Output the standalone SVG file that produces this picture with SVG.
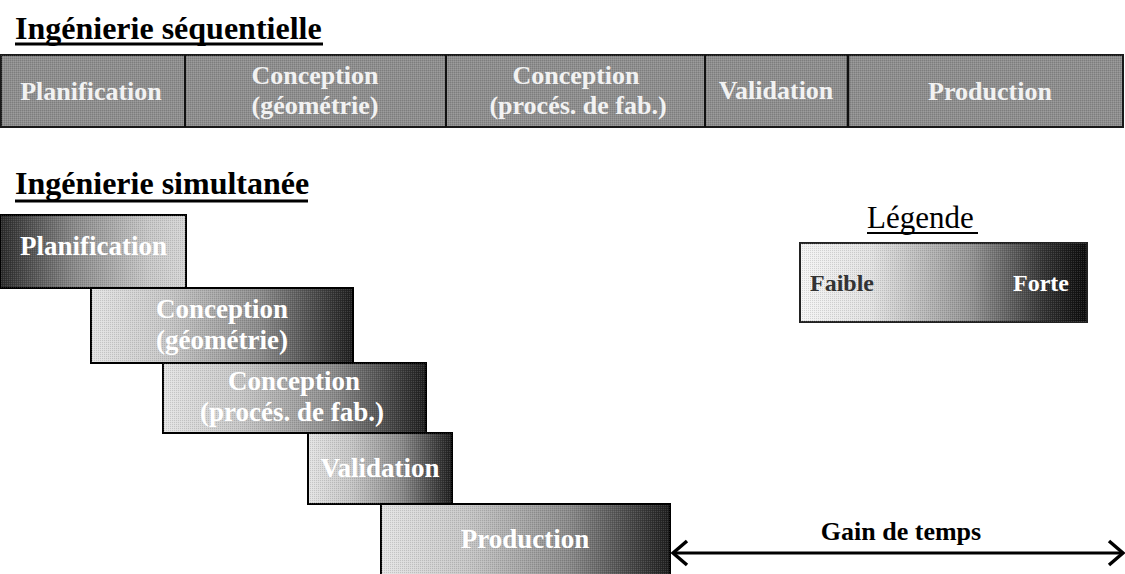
<svg xmlns="http://www.w3.org/2000/svg" width="1125" height="574" viewBox="0 0 1125 574">
  <defs>
    <linearGradient id="gSim" x1="0" y1="0" x2="1" y2="0">
      <stop offset="0" stop-color="#e4e4e4"/>
      <stop offset="0.3" stop-color="#c6c6c6"/>
      <stop offset="0.65" stop-color="#8a8a8a"/>
      <stop offset="1" stop-color="#1e1e1e"/>
    </linearGradient>
    <linearGradient id="gPlan" x1="0" y1="0" x2="1" y2="0">
      <stop offset="0" stop-color="#2a2a2a"/>
      <stop offset="0.4" stop-color="#8a8a8a"/>
      <stop offset="0.8" stop-color="#c8c8c8"/>
      <stop offset="1" stop-color="#d6d6d6"/>
    </linearGradient>
    <linearGradient id="gLeg" x1="0" y1="0" x2="1" y2="0">
      <stop offset="0" stop-color="#f4f4f4"/>
      <stop offset="0.25" stop-color="#e2e2e2"/>
      <stop offset="0.6" stop-color="#929292"/>
      <stop offset="0.85" stop-color="#333333"/>
      <stop offset="1" stop-color="#0a0a0a"/>
    </linearGradient>
    <pattern id="dither" width="2" height="2" patternUnits="userSpaceOnUse">
      <rect x="0" y="0" width="1" height="1" fill="#000" fill-opacity="0.12"/>
      <rect x="1" y="1" width="1" height="1" fill="#fff" fill-opacity="0.12"/>
    </pattern>
    <marker id="chev" viewBox="0 0 18 28" refX="16" refY="14" markerWidth="18" markerHeight="28" markerUnits="userSpaceOnUse" orient="auto-start-reverse">
      <path d="M2,2 L16,14 L2,26" fill="none" stroke="#000" stroke-width="3.5" stroke-linejoin="miter"/>
    </marker>
  </defs>
  <style>
    .title { font-family: "Liberation Serif", "Times New Roman", serif; font-weight: bold; font-size: 32px; fill: #000; }
    .lbl { font-family: "Liberation Serif", "Times New Roman", serif; font-weight: bold; font-size: 27px; fill: #fff; }
    .seqlbl { font-family: "Liberation Serif", "Times New Roman", serif; font-weight: bold; font-size: 26px; fill: #f2f2f2; text-anchor: middle; }
    .box { stroke: #000; stroke-width: 2; }
    .ul { stroke: #000; stroke-width: 3; }
  </style>

  <rect width="1125" height="574" fill="#fff"/>

  <g id="title-seq">
    <text class="title" x="15" y="39">Ingénierie séquentielle</text>
    <line class="ul" x1="15" y1="44" x2="323" y2="44"/>
  </g>

  <g id="seq-bar">
    <rect x="1" y="55" width="1122" height="72" fill="#8e8e8e" stroke="#1a1a1a" stroke-width="2"/>
    <rect x="1" y="55" width="1122" height="72" fill="url(#dither)"/>
    <line x1="185" y1="55" x2="185" y2="127" stroke="#111" stroke-width="2"/>
    <line x1="446" y1="55" x2="446" y2="127" stroke="#111" stroke-width="2"/>
    <line x1="705" y1="55" x2="705" y2="127" stroke="#111" stroke-width="2"/>
    <line x1="848" y1="55" x2="848" y2="127" stroke="#111" stroke-width="2.5"/>
  </g>
  <g id="seq-planification"><text class="seqlbl" x="91" y="100">Planification</text></g>
  <g id="seq-conception-geo"><text class="seqlbl" x="315" y="84">Conception</text><text class="seqlbl" x="315" y="114">(géométrie)</text></g>
  <g id="seq-conception-proc"><text class="seqlbl" x="576" y="84">Conception</text><text class="seqlbl" x="578" y="114">(procés. de fab.)</text></g>
  <g id="seq-validation"><text class="seqlbl" x="776" y="99">Validation</text></g>
  <g id="seq-production"><text class="seqlbl" x="990" y="100">Production</text></g>

  <g id="title-sim">
    <text class="title" x="15" y="194">Ingénierie simultanée</text>
    <line class="ul" x1="15" y1="201" x2="308" y2="201"/>
  </g>

  <g id="sim-planification">
    <rect class="box" x="0" y="215" width="186" height="73" fill="url(#gPlan)"/>
    <rect x="0" y="215" width="186" height="73" fill="url(#dither)"/>
    <text class="lbl" x="20" y="255" font-size="28">Planification</text>
  </g>
  <g id="sim-conception-geo">
    <rect class="box" x="91" y="288" width="262" height="75" fill="url(#gSim)"/>
    <rect x="91" y="288" width="262" height="75" fill="url(#dither)"/>
    <text class="lbl" x="222" y="318" text-anchor="middle">Conception</text>
    <text class="lbl" x="222" y="349" text-anchor="middle">(géométrie)</text>
  </g>
  <g id="sim-conception-proc">
    <rect class="box" x="163" y="363" width="263" height="70" fill="url(#gSim)"/>
    <rect x="163" y="363" width="263" height="70" fill="url(#dither)"/>
    <text class="lbl" x="294" y="390" text-anchor="middle">Conception</text>
    <text class="lbl" x="292" y="421" text-anchor="middle">(procés. de fab.)</text>
  </g>
  <g id="sim-validation">
    <rect class="box" x="308" y="433" width="144" height="71" fill="url(#gSim)"/>
    <rect x="308" y="433" width="144" height="71" fill="url(#dither)"/>
    <text class="lbl" x="380" y="477" text-anchor="middle">Validation</text>
  </g>
  <g id="sim-production">
    <rect class="box" x="381" y="504" width="289" height="72" fill="url(#gSim)"/>
    <rect x="381" y="504" width="289" height="72" fill="url(#dither)"/>
    <text class="lbl" x="525" y="548" text-anchor="middle">Production</text>
  </g>

  <g id="legend">
    <text x="867" y="228" font-family="'Liberation Serif', 'Times New Roman', serif" font-size="31" fill="#000">Légende</text>
    <line x1="867" y1="233" x2="978" y2="233" stroke="#000" stroke-width="2"/>
    <rect x="800" y="243" width="287" height="79" fill="url(#gLeg)" stroke="#222" stroke-width="2"/>
    <rect x="800" y="243" width="287" height="79" fill="url(#dither)"/>
    <text x="810" y="291" font-family="'Liberation Serif', 'Times New Roman', serif" font-weight="bold" font-size="24" fill="#333">Faible</text>
    <text x="1013" y="291" font-family="'Liberation Serif', 'Times New Roman', serif" font-weight="bold" font-size="24" fill="#fff">Forte</text>
  </g>

  <g id="connectors">
    <line x1="673" y1="553" x2="1123" y2="553" stroke="#000" stroke-width="3" marker-start="url(#chev)" marker-end="url(#chev)"/>
    <text x="901" y="540" text-anchor="middle" font-family="'Liberation Serif', 'Times New Roman', serif" font-weight="bold" font-size="26" fill="#000">Gain de temps</text>
  </g>
</svg>
